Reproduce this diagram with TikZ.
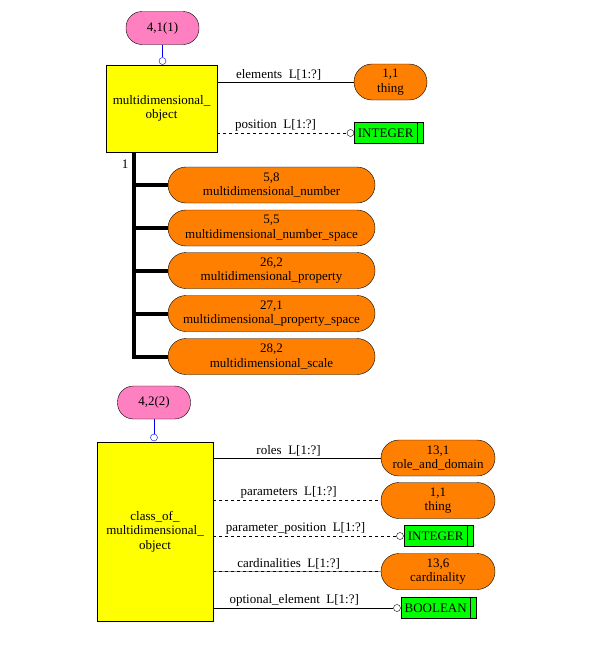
\documentclass[tikz,border=0pt]{standalone}
\usepackage{fontspec}
\setmainfont{Liberation Serif}
\usetikzlibrary{positioning}

\definecolor{entpink}{RGB}{255,128,192}
\definecolor{entorange}{RGB}{255,128,0}
\definecolor{entyellow}{RGB}{255,255,0}
\definecolor{entgreen}{RGB}{0,255,0}

\tikzset{
  pagebox/.style={draw, fill=entpink, rounded corners=16pt, minimum width=73pt, minimum height=33pt, inner sep=0pt},
  entbox/.style={draw, fill=entyellow, inner sep=0pt, align=center},
  refbox/.style={draw, fill=entorange, rounded corners=18pt, minimum height=36pt, inner sep=0pt, align=center},
  typebox/.style={draw, fill=entgreen, minimum height=21pt, inner sep=0pt, anchor=west},
  ring/.style={draw, circle, fill=white, minimum size=7pt, inner sep=0pt},
  attr/.style={pos=0.45, above=1pt, inner sep=1pt},
}

\newcommand{\typeboxbar}[1]{\draw ([xshift=-6pt]#1.north east) -- ([xshift=-6pt]#1.south east);}

\begin{document}
\begin{tikzpicture}[x=1pt, y=-1pt, every node/.style={font=\fontsize{13}{14.5}\selectfont}]
	\useasboundingbox[fill=white] (0,0) rectangle (600,656);

	% Page reference 1
	\node[pagebox] (pg1) at (162.5,28) {4,1(1)};
	\node[ring, draw=blue] (pg1c) at (162.5,61) {};
	\draw[blue] (pg1) -- (pg1c);

	% Entity multidimensional_object
	\node[entbox, minimum width=111pt, minimum height=87pt] (mdo) at (161.5,108.5) {multidimensional\_\\object};

	% Attributes
	\node[refbox, minimum width=73pt] (thing1) at (390.5,82) {1,1\\thing};
	\draw (thing1.west -| mdo.east) -- node[attr] {elements\enspace L[1:?]} (thing1.west);

	\node[typebox] (int1) at (354,133) {\makebox[63pt]{INTEGER}\kern6pt};
	\typeboxbar{int1}
	\node[ring] (int1c) at (350.5,133) {};
	\draw[dashed] (int1c.west -| mdo.east) -- node[attr] {position\enspace L[1:?]} (int1c.west);

	% Subtypes
	\draw[line width=4pt] (134,152) -- (134,358);
	\node at (125,164) {1};
	\foreach \name/\txt/\y in {sub1/{5,8\\multidimensional\_number}/185,
	                           sub2/{5,5\\multidimensional\_number\_space}/228,
	                           sub3/{26,2\\multidimensional\_property}/270.5,
	                           sub4/{27,1\\multidimensional\_property\_space}/313.5,
	                           sub5/{28,2\\multidimensional\_scale}/356.5} {
		\node[refbox, minimum width=207pt] (\name) at (271.5,\y) {\txt};
		\draw[line width=4pt] (\name.west -| 132,0) -- (\name.west);
	}

	% Page reference 2
	\node[pagebox] (pg2) at (154,402.5) {4,2(2)};
	\node[ring, draw=blue] (pg2c) at (154,437.5) {};
	\draw[blue] (pg2) -- (pg2c);

	% Entity class_of_multidimensional_object
	\node[entbox, minimum width=116pt, minimum height=179pt] (cmdo) at (155,531.5) {class\_of\_\\multidimensional\_\\object};

	% Attributes
	\node[refbox, minimum width=114pt] (rad) at (438,458) {13,1\\role\_and\_domain};
	\draw (rad.west -| cmdo.east) -- node[attr] {roles\enspace L[1:?]} (rad.west);

	\node[refbox, minimum width=114pt] (thing2) at (438,500.5) {1,1\\thing};
	\draw[dashed] (thing2.west -| cmdo.east) -- node[attr] {parameters\enspace L[1:?]} (thing2.west);

	\node[typebox] (int2) at (404,536) {\makebox[63pt]{INTEGER}\kern6pt};
	\typeboxbar{int2}
	\node[ring] (int2c) at (400,536) {};
	\draw[dashed] (int2c.west -| cmdo.east) -- node[attr] {parameter\_position\enspace L[1:?]} (int2c.west);

	\node[refbox, minimum width=114pt] (card) at (438,571.5) {13,6\\cardinality};
	\draw[entgreen] (card.west -| cmdo.east) -- (card.west);
	\draw[dashed] (card.west -| cmdo.east) -- node[attr] {cardinalities\enspace L[1:?]} (card.west);

	\node[typebox] (bool) at (401,608) {\makebox[69pt]{BOOLEAN}\kern6pt};
	\typeboxbar{bool}
	\node[ring] (boolc) at (397,608) {};
	\draw (boolc.west -| cmdo.east) -- node[attr] {optional\_element\enspace L[1:?]} (boolc.west);
\end{tikzpicture}
\end{document}
